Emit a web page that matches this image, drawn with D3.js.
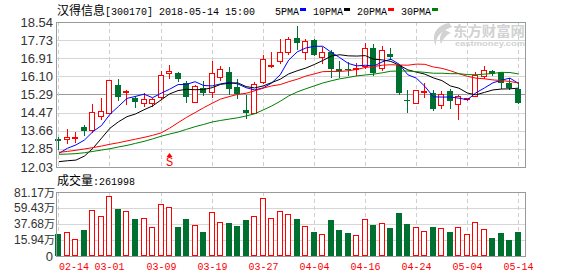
<!DOCTYPE html>
<html>
<head>
<meta charset="utf-8">
<script src="https://cdn.jsdelivr.net/npm/d3@7"></script>
<style>
  body { margin: 0; background: #fff; }
</style>
</head>
<body>
<div id="chart"></div>
<script>
// trading days shown (2018)
var dates = ["02-14","02-22","02-23","02-26","02-27","02-28","03-01","03-02","03-05","03-06",
  "03-07","03-08","03-09","03-12","03-13","03-14","03-15","03-16","03-19","03-20",
  "03-21","03-22","03-23","03-26","03-27","03-28","03-29","03-30","04-02","04-03",
  "04-04","04-09","04-10","04-11","04-12","04-13","04-16","04-17","04-18","04-19",
  "04-20","04-23","04-24","04-25","04-26","04-27","05-02","05-03","05-04","05-07",
  "05-08","05-09","05-10","05-11","05-14"];

var opens = [13.27,13.29,13.33,13.82,13.69,14.33,14.47,15.71,15.38,15.14,
  14.89,14.89,15.19,16.23,16.26,15.82,14.93,15.59,15.38,16.09,
  16.30,15.62,14.59,14.47,15.85,16.59,16.80,17.21,17.81,17.21,
  17.73,16.95,17.19,16.43,16.42,16.41,16.58,17.36,16.46,17.10,
  16.61,15.06,14.89,15.42,15.34,14.80,15.44,14.84,15.08,15.22,
  16.13,16.34,16.28,15.82,15.53];
var highs = [13.39,13.73,13.59,13.93,14.86,15.11,15.94,15.98,15.49,15.23,
  15.37,15.11,16.34,16.61,16.29,15.91,15.71,15.89,16.80,16.56,
  16.50,15.97,15.26,15.85,17.06,17.19,17.76,17.88,18.36,17.78,
  17.76,17.43,17.30,16.80,16.73,16.68,17.58,17.55,17.48,17.36,
  16.64,15.49,15.47,15.79,15.49,15.44,15.53,15.26,15.14,16.31,
  16.58,16.38,16.31,16.01,15.86];
var lows = [12.83,13.12,13.17,13.47,13.59,14.18,14.45,15.04,14.84,14.74,
  14.77,14.78,15.14,16.01,15.89,14.96,14.93,15.25,15.16,15.94,
  15.31,15.11,14.24,14.44,15.81,16.53,16.71,17.09,17.34,16.86,
  17.04,16.71,16.06,16.08,16.16,16.16,16.46,16.16,16.38,16.88,
  15.30,14.51,14.89,15.19,14.59,14.69,14.69,14.17,15.05,15.21,
  16.01,16.16,15.59,15.53,14.89];
var closes = [13.20,13.39,13.39,13.66,14.48,14.54,15.92,15.16,15.43,14.93,
  15.08,15.08,16.16,16.34,15.97,15.16,15.65,15.34,16.23,16.41,
  15.53,15.31,14.47,15.74,16.86,16.62,17.18,17.76,17.58,17.69,
  17.04,17.18,16.43,16.34,16.40,16.49,17.36,16.23,17.28,16.98,
  15.34,15.03,15.47,15.45,14.63,15.29,15.01,15.22,15.11,16.16,
  16.38,16.20,15.82,15.56,14.92];

// volume in 万 (10k shares)
var volumes = [24.1,26.4,16.9,29.5,56.7,48.1,75.3,58.5,54.9,44.5,
  45.8,33.2,64.4,60.3,33.6,44.5,35.9,26.8,53.5,40.0,
  39.1,35.0,43.1,48.1,72.6,45.4,54.9,50.8,44.5,34.5,
  26.8,23.7,43.1,29.5,25.5,22.3,44.0,36.3,38.6,32.3,
  52.6,37.7,33.6,27.7,33.6,31.8,26.8,33.2,23.7,40.0,
  30.9,18.7,25.5,15.9,26.2];

var ma5 = [12.64,12.87,13.02,13.24,13.62,13.89,14.40,14.75,15.11,15.20,
  15.30,15.14,15.34,15.52,15.73,15.74,15.86,15.69,15.67,15.76,
  15.83,15.76,15.59,15.49,15.58,15.80,16.17,16.83,17.20,17.37,
  17.45,17.45,17.18,16.94,16.68,16.57,16.60,16.56,16.75,16.87,
  16.64,16.17,16.02,15.65,15.18,15.17,15.17,15.12,15.05,15.36,
  15.58,15.81,15.93,16.02,15.78];
var ma10 = [12.27,12.31,12.34,12.52,12.87,13.32,13.77,14.06,14.29,14.41,
  14.60,14.77,15.04,15.31,15.46,15.52,15.50,15.51,15.59,15.74,
  15.79,15.81,15.64,15.58,15.67,15.82,15.97,16.21,16.35,16.47,
  16.63,16.81,17.01,17.07,17.02,17.01,17.03,16.87,16.84,16.77,
  16.60,16.39,16.29,16.20,16.03,15.91,15.67,15.57,15.35,15.27,
  15.38,15.49,15.53,15.54,15.57];
var ma20 = [12.69,12.73,12.78,12.84,12.90,12.97,13.05,13.12,13.20,13.28,
  13.36,13.45,13.56,13.77,14.02,14.26,14.47,14.69,14.89,15.08,
  15.19,15.29,15.34,15.45,15.57,15.67,15.73,15.86,15.97,16.11,
  16.21,16.31,16.32,16.32,16.35,16.41,16.50,16.54,16.60,16.62,
  16.61,16.60,16.65,16.64,16.52,16.46,16.35,16.22,16.10,16.02,
  15.99,15.94,15.91,15.87,15.80];
var ma30 = [12.60,12.61,12.63,12.67,12.73,12.79,12.85,12.93,13.00,13.09,
  13.18,13.29,13.41,13.51,13.60,13.72,13.84,13.94,14.05,14.12,
  14.18,14.24,14.32,14.42,14.59,14.77,14.98,15.22,15.40,15.54,
  15.67,15.80,15.90,15.99,16.05,16.12,16.16,16.20,16.26,16.33,
  16.34,16.34,16.31,16.28,16.24,16.24,16.22,16.22,16.18,16.17,
  16.20,16.23,16.28,16.27,16.21];

var priceTicks = [18.54,17.73,16.91,16.10,15.29,14.47,13.66,12.85,12.03];
var volTicks = [81.17,59.43,37.68,15.94];
var volFloor = -5.8;   // the volume axis bottom sits one step below 15.94
var dateTicks = ["02-14","03-01","03-09","03-19","03-27","04-04","04-16","04-24","05-04","05-14"];
var signalDate = "03-12";

var maNames = ["5PMA","10PMA","20PMA","30PMA"];
var maColors = ["#0000ff","#000000","#ff0000","#008000"];

var RED = "#ff0000", GREEN = "#007030";
var numFont = "'Liberation Sans', Arial, sans-serif";
var monoFont = "'Liberation Mono', 'DejaVu Sans Mono', monospace";
var cjkFont = "'Noto Sans CJK SC', sans-serif";

var plotL = 56, plotR = 525,
  priceTop = 22, priceBot = 167,
  volTop = 192, volBot = 256;

var svg = d3.select("#chart").append("svg")
  .attr("width", 578).attr("height", 276)
  .style("display", "block");

var x = d3.scalePoint().domain(dates).range([58.4, 518]);
var yP = d3.scaleLinear().domain([12.03, 18.54]).range([priceBot, priceTop]);
var yV = d3.scaleLinear().domain([volFloor, volTicks[0]]).range([volBot, volTop]);

var px = function(d) { return Math.round(x(d)); };

// watermark
var wm = svg.append("g").attr("fill", "#d2d2d2");
wm.append("path")
  .attr("d", "M449,23 C438,25 430,34 436,46 C435,38 440,31 452,27 Z M445,30 C440,33 439,39 441,44 C443,39 446,35 451,33 Z");
wm.append("text").attr("x", 453).attr("y", 36)
  .style("font", "bold 14px " + cjkFont)
  .attr("textLength", 72).attr("lengthAdjust", "spacingAndGlyphs")
  .text("东方财富网");
wm.append("text").attr("x", 455).attr("y", 46)
  .style("font", "bold 8px " + numFont)
  .attr("textLength", 70).attr("lengthAdjust", "spacingAndGlyphs")
  .text("eastmoney.com");

// horizontal grid, price
svg.selectAll(".pgrid").data(priceTicks.slice(1, -1)).enter().append("line")
  .attr("x1", plotL).attr("x2", plotR)
  .attr("y1", function(d) { return Math.round(yP(d)) + 0.5; })
  .attr("y2", function(d) { return Math.round(yP(d)) + 0.5; })
  .attr("stroke", function(d, i) { return i == 3 ? "#999" : "#d6d6d6"; });

// horizontal grid, volume
svg.selectAll(".vgrid").data(volTicks.slice(1)).enter().append("line")
  .attr("x1", plotL).attr("x2", plotR)
  .attr("y1", function(d) { return Math.round(yV(d)) + 0.5; })
  .attr("y2", function(d) { return Math.round(yV(d)) + 0.5; })
  .attr("stroke", "#d6d6d6");

// vertical dashed grid
[[priceTop, priceBot], [volTop, volBot]].forEach(function(r) {
  svg.selectAll(null).data(dateTicks).enter().append("line")
    .attr("x1", function(d) { return px(d) + 0.5; })
    .attr("x2", function(d) { return px(d) + 0.5; })
    .attr("y1", r[0]).attr("y2", r[1])
    .attr("stroke", "#cfcfcf")
    .attr("stroke-dasharray", "4,3");
});

// candles
var candles = dates.map(function(d, i) {
  return { date: d, o: opens[i], h: highs[i], l: lows[i], c: closes[i], v: volumes[i] };
});

var cg = svg.append("g");
candles.forEach(function(k) {
  var cx = px(k.date);
  var up = k.c >= k.o;
  var col = up ? RED : GREEN;
  var top = Math.round(yP(Math.max(k.o, k.c))),
    bot = Math.round(yP(Math.min(k.o, k.c)));
  cg.append("line")
    .attr("x1", cx + 0.5).attr("x2", cx + 0.5)
    .attr("y1", Math.round(yP(k.h))).attr("y2", Math.round(yP(k.l)) + 1)
    .attr("stroke", col);
  if (up) {
    cg.append("rect")
      .attr("x", cx - 2.5).attr("y", top + 0.5)
      .attr("width", 5).attr("height", Math.max(bot - top, 1))
      .attr("fill", "#fff").attr("stroke", RED);
  } else {
    cg.append("rect")
      .attr("x", cx - 3).attr("y", top)
      .attr("width", 6).attr("height", Math.max(bot - top, 1))
      .attr("fill", GREEN);
  }
});

// moving averages
var maSeries = [ma5, ma10, ma20, ma30];
var line = d3.line()
  .x(function(d, i) { return x(dates[i]) + 0.5; })
  .y(function(d) { return yP(d); });
maSeries.forEach(function(s, i) {
  svg.append("path").datum(s)
    .attr("d", line)
    .attr("fill", "none")
    .attr("stroke", maColors[i])
    .attr("stroke-width", 1);
});

// volume bars
var vg = svg.append("g");
candles.forEach(function(k) {
  var cx = px(k.date);
  var up = k.c >= k.o;
  var top = Math.round(yV(k.v));
  if (up) {
    vg.append("rect")
      .attr("x", cx - 2.5).attr("y", top + 0.5)
      .attr("width", 5).attr("height", volBot - top - 1)
      .attr("fill", "#fff").attr("stroke", RED);
  } else {
    vg.append("rect")
      .attr("x", cx - 3).attr("y", top)
      .attr("width", 6).attr("height", volBot - top)
      .attr("fill", GREEN);
  }
});

// buy signal marker
var sx = px(signalDate);
svg.append("path")
  .attr("d", "M" + (sx - 2.5) + ",157 L" + (sx + 0.5) + ",153 L" + (sx + 3.5) + ",157 Z")
  .attr("fill", RED);
svg.append("text").attr("x", sx + 0.5).attr("y", 166)
  .attr("text-anchor", "middle")
  .style("font", "12px " + monoFont)
  .attr("fill", RED)
  .text("S");

// frames
svg.append("rect").attr("x", plotL + 0.5).attr("y", priceTop + 0.5)
  .attr("width", plotR - plotL).attr("height", priceBot - priceTop)
  .attr("fill", "none").attr("stroke", "#9a9a9a");
svg.append("rect").attr("x", plotL + 0.5).attr("y", volTop + 0.5)
  .attr("width", plotR - plotL).attr("height", volBot - volTop)
  .attr("fill", "none").attr("stroke", "#9a9a9a");

// price axis labels
svg.selectAll(".plab").data(priceTicks).enter().append("text")
  .attr("x", 53)
  .attr("y", function(d) { return yP(d) + 4.5; })
  .attr("text-anchor", "end")
  .style("font", "13px " + numFont)
  .attr("fill", "#333")
  .text(function(d) { return d.toFixed(2); });

// volume axis labels
var vl = svg.selectAll(".vlab").data(volTicks).enter().append("text")
  .attr("x", 55)
  .attr("y", function(d, i) { return i == 0 ? volTop + 4.5 : yV(d) + 4; })
  .attr("text-anchor", "end")
  .style("font", "12px " + numFont)
  .attr("fill", "#333");
vl.append("tspan").text(function(d) { return d.toFixed(2); });
vl.append("tspan").style("font-family", cjkFont).style("font-size", "11px").text("万");
svg.append("text").attr("x", 53).attr("y", volBot + 4.5)
  .attr("text-anchor", "end")
  .style("font", "13px " + numFont)
  .attr("fill", "#333")
  .text("0");

// date labels
svg.selectAll(".dlab").data(dateTicks).enter().append("text")
  .attr("x", function(d, i) { return i == 0 ? px(d) + 1 : px(d) + 0.5; })
  .attr("y", 270)
  .attr("text-anchor", function(d, i) { return i == 0 ? "start" : "middle"; })
  .style("font", "11px " + monoFont)
  .attr("textLength", 30).attr("lengthAdjust", "spacingAndGlyphs")
  .attr("fill", RED)
  .text(function(d) { return d; });

// title
svg.append("text").attr("x", 57).attr("y", 15)
  .style("font", "12px " + cjkFont).attr("fill", "#000")
  .text("汉得信息");
svg.append("text").attr("x", 105).attr("y", 15)
  .style("font", "11px " + monoFont).attr("fill", "#000")
  .attr("textLength", 150).attr("lengthAdjust", "spacingAndGlyphs")
  .text("[300170] 2018-05-14 15:00");

// legend
var lx = 275;
maNames.forEach(function(n, i) {
  var w = n.length * 6;
  svg.append("text").attr("x", lx).attr("y", 15)
    .style("font", "11px " + monoFont).attr("fill", "#000")
    .attr("textLength", w).attr("lengthAdjust", "spacingAndGlyphs")
    .text(n);
  svg.append("rect").attr("x", lx + w + 1).attr("y", 8)
    .attr("width", 6).attr("height", 3)
    .attr("fill", maColors[i]);
  lx += w + 14;
});

// volume caption
svg.append("text").attr("x", 57).attr("y", 185)
  .style("font", "12px " + cjkFont).attr("fill", "#000")
  .text("成交量");
svg.append("text").attr("x", 93).attr("y", 185)
  .style("font", "11px " + monoFont).attr("fill", "#000")
  .attr("textLength", 42).attr("lengthAdjust", "spacingAndGlyphs")
  .text(":261998");
</script>
</body>
</html>
